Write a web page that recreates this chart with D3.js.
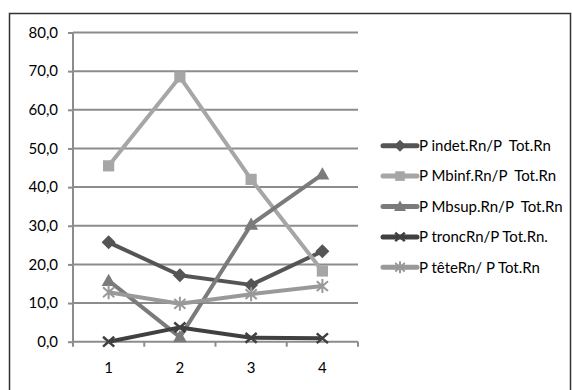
<!DOCTYPE html>
<html>
<head>
<meta charset="utf-8">
<script src="https://cdn.jsdelivr.net/npm/d3@7"></script>
<style>
  body { margin: 0; background: #fff; }
  svg text { font-family: Lato, "Open Sans", sans-serif; fill: #000; white-space: pre; }
</style>
</head>
<body>
<script>
// catégories et séries
const categories = ["1", "2", "3", "4"];
const seriesNames = ["P indet.Rn/P  Tot.Rn", "P Mbinf.Rn/P  Tot.Rn", "P Mbsup.Rn/P  Tot.Rn", "P troncRn/P Tot.Rn.", "P têteRn/ P Tot.Rn"];
const indet = [25.7, 17.2, 14.7, 23.4];
const mbinf = [45.5, 68.5, 42.0, 18.3];
const mbsup = [15.8, 1.2, 30.3, 43.3];
const tronc = [0.0, 3.7, 1.0, 0.9];
const tete = [12.8, 9.8, 12.3, 14.4];
const yTicks = [0, 10, 20, 30, 40, 50, 60, 70, 80];

const seriesValues = [indet, mbinf, mbsup, tronc, tete];
const couleurs = ["#555555", "#a6a6a6", "#7b7b7b", "#404040", "#999999"];
const symboles = ["diamond", "square", "triangle", "x", "star"];

const svg = d3.select("body").append("svg")
  .attr("width", 572).attr("height", 390);

// cadre
svg.append("rect")
  .attr("x", 9.5).attr("y", 13.5).attr("width", 561).attr("height", 380)
  .attr("fill", "none").attr("stroke", "#333").attr("stroke-width", 1.5);

const x = d3.scaleBand().domain(categories).range([73, 358]);
const y = d3.scaleLinear().domain([0, 80]).range([341.7, 32.5]);

// grille
svg.selectAll("line.grid")
  .data(yTicks.filter(d => d > 0))
  .enter().append("line")
  .attr("class", "grid")
  .attr("x1", 73).attr("x2", 358)
  .attr("y1", d => y(d)).attr("y2", d => y(d))
  .attr("stroke", "#8c8c8c").attr("stroke-width", 2);

// axe y
const axeY = svg.append("g")
  .attr("transform", "translate(73,0)")
  .call(d3.axisLeft(y).tickValues(yTicks).tickSize(5).tickPadding(10)
    .tickFormat(d => d3.format(".1f")(d).replace(".", ",")));
axeY.select(".domain").attr("stroke", "#8c8c8c").attr("stroke-width", 2).attr("d", "M0,32.5V341.7");
axeY.selectAll(".tick line").attr("stroke", "#8c8c8c").attr("stroke-width", 2);
axeY.selectAll("text").attr("font-size", 15).attr("fill", "#000");

// axe x
const axeX = svg.append("g")
  .attr("transform", "translate(0,341.7)")
  .call(d3.axisBottom(x).tickSize(0).tickPadding(21));
axeX.select(".domain").attr("stroke", "#8c8c8c").attr("stroke-width", 2).attr("d", "M73,0H358");
axeX.selectAll("text").attr("font-size", 15).attr("fill", "#000");
axeX.selectAll("line.sep")
  .data(d3.range(categories.length + 1))
  .enter().append("line")
  .attr("class", "sep")
  .attr("x1", i => 73 + i * x.bandwidth()).attr("x2", i => 73 + i * x.bandwidth())
  .attr("y1", 0).attr("y2", 5)
  .attr("stroke", "#8c8c8c").attr("stroke-width", 2);

function symbole(g, type, couleur, taille) {
  const s = taille;
  if (type === "diamond") {
    g.append("path").attr("d", `M0,${-s}L${s},0L0,${s}L${-s},0Z`).attr("fill", couleur);
  } else if (type === "square") {
    g.append("rect").attr("x", -s * 0.8).attr("y", -s * 0.8).attr("width", s * 1.6).attr("height", s * 1.6).attr("fill", couleur);
  } else if (type === "triangle") {
    g.append("path").attr("d", `M0,${-s}L${s},${s * 0.75}L${-s},${s * 0.75}Z`).attr("fill", couleur);
  } else if (type === "x") {
    g.append("path").attr("d", `M${-s * 0.8},${-s * 0.7}L${s * 0.8},${s * 0.7}M${-s * 0.8},${s * 0.7}L${s * 0.8},${-s * 0.7}`)
      .attr("stroke", couleur).attr("stroke-width", 2.5);
  } else {
    g.append("path").attr("d", `M${-s * 0.8},${-s * 0.7}L${s * 0.8},${s * 0.7}M${-s * 0.8},${s * 0.7}L${s * 0.8},${-s * 0.7}M0,${-s}V${s}`)
      .attr("stroke", couleur).attr("stroke-width", 2);
  }
}

const ligne = d3.line()
  .x((d, i) => x(categories[i]) + x.bandwidth() / 2)
  .y(d => y(d));

seriesValues.forEach((vals, k) => {
  svg.append("path")
    .attr("d", ligne(vals))
    .attr("fill", "none")
    .attr("stroke", couleurs[k]).attr("stroke-width", 4)
    .attr("stroke-linejoin", "round");
  vals.forEach((v, i) => {
    const g = svg.append("g")
      .attr("transform", `translate(${x(categories[i]) + x.bandwidth() / 2},${y(v)})`);
    symbole(g, symboles[k], couleurs[k], 7);
  });
});

// légende
const legende = svg.append("g");
seriesNames.forEach((nom, k) => {
  const ly = 145.7 + k * 30.4;
  const g = legende.append("g").attr("transform", `translate(0,${ly})`);
  g.append("line").attr("x1", 383).attr("x2", 417).attr("y1", 0).attr("y2", 0)
    .attr("stroke", couleurs[k]).attr("stroke-width", 5).attr("stroke-linecap", "round");
  const m = g.append("g").attr("transform", "translate(400,0)");
  symbole(m, symboles[k], couleurs[k], 6);
  g.append("text").attr("x", 419).attr("y", 0).attr("dy", "0.35em")
    .attr("font-size", 15).text(nom);
});
</script>
</body>
</html>
